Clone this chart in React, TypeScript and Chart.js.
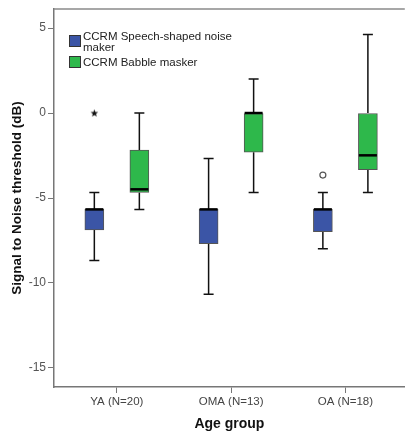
import React, { useEffect, useRef } from "react";
import { Chart, registerables } from "chart.js";

Chart.register(...registerables);

const categories = ["YA (N=20)", "OMA (N=13)", "OA (N=18)"];
const seriesNames = ["CCRM Speech-shaped noise maker", "CCRM Babble masker"];

// Speech-shaped noise masker (blue)
const speechMin = [-8.67, -10.67, -7.98];
const speechQ1 = [-6.88, -7.69, -6.98];
const speechMedian = [-5.67, -5.67, -5.67];
const speechQ3 = [-5.67, -5.67, -5.67];
const speechMax = [-4.67, -2.67, -4.67];

// Babble masker (green)
const babbleMin = [-5.67, -4.67, -4.67];
const babbleQ1 = [-4.67, -2.31, -3.33];
const babbleMedian = [-4.49, 0, -2.49];
const babbleQ3 = [-2.18, 0, 0];
const babbleMax = [0, 2.0, 4.62];

// Outliers: [categoryIndex, value]
const extremeOutliers = [[0, 0]]; // star, speech series
const mildOutliers = [[2, -3.65]]; // circle, speech series

const yTicks = [5, 0, -5, -10, -15];

const BLUE = "#3b55a6";
const GREEN = "#2eb84b";
const OFFSET = 0.197;

const series = [
  { name: seriesNames[0], color: BLUE, off: -OFFSET, min: speechMin, q1: speechQ1, med: speechMedian, q3: speechQ3, max: speechMax },
  { name: seriesNames[1], color: GREEN, off: OFFSET, min: babbleMin, q1: babbleQ1, med: babbleMedian, q3: babbleQ3, max: babbleMax },
];

function makeStar(): HTMLCanvasElement {
  const c = document.createElement("canvas");
  c.width = 9;
  c.height = 9;
  const g = c.getContext("2d")!;
  g.fillStyle = "#111";
  g.beginPath();
  for (let k = 0; k < 10; k++) {
    const r = k % 2 === 0 ? 4 : 1.7;
    const a = -Math.PI / 2 + (k * Math.PI) / 5;
    const px = 4.5 + r * Math.cos(a);
    const py = 4.8 + r * Math.sin(a);
    if (k === 0) g.moveTo(px, py);
    else g.lineTo(px, py);
  }
  g.closePath();
  g.fill();
  return c;
}

const boxPlugin = {
  id: "boxWhiskers",
  beforeDatasetsDraw(chart: any) {
    const { ctx, scales } = chart;
    const xs = scales.x, ys = scales.y;
    ctx.save();
    ctx.strokeStyle = "#111";
    ctx.lineWidth = 1.5;
    series.forEach((s) => {
      categories.forEach((_, i) => {
        const x = xs.getPixelForValue(i + 1 + s.off);
        const yMax = ys.getPixelForValue(s.max[i]);
        const yQ3 = ys.getPixelForValue(s.q3[i]);
        const yQ1 = ys.getPixelForValue(s.q1[i]);
        const yMin = ys.getPixelForValue(s.min[i]);
        ctx.beginPath();
        ctx.moveTo(x, yMax); ctx.lineTo(x, yQ3);
        ctx.moveTo(x, yQ1); ctx.lineTo(x, yMin);
        ctx.moveTo(x - 5, yMax); ctx.lineTo(x + 5, yMax);
        ctx.moveTo(x - 5, yMin); ctx.lineTo(x + 5, yMin);
        ctx.stroke();
      });
    });
    ctx.restore();
  },
  afterDatasetsDraw(chart: any) {
    const { ctx, scales, chartArea } = chart;
    const xs = scales.x, ys = scales.y;
    ctx.save();
    ctx.strokeStyle = "#000";
    ctx.lineWidth = 2.5;
    series.forEach((s) => {
      categories.forEach((_, i) => {
        const x = xs.getPixelForValue(i + 1 + s.off);
        const y = ys.getPixelForValue(s.med[i]);
        ctx.beginPath();
        ctx.moveTo(x - 9, y); ctx.lineTo(x + 9, y);
        ctx.stroke();
      });
    });
    ctx.strokeStyle = "#8a8a8a";
    ctx.lineWidth = 1.5;
    ctx.beginPath();
    ctx.moveTo(chartArea.left, chartArea.top);
    ctx.lineTo(chartArea.right, chartArea.top);
    ctx.stroke();
    ctx.restore();
  },
};

export default function App() {
  const ref = useRef<HTMLCanvasElement | null>(null);
  useEffect(() => {
    if (!ref.current) return;
    const datasets: any[] = series.map((s) => ({
      type: "bar",
      label: s.name,
      data: categories.map((_, i) => ({ x: i + 1 + s.off, y: [s.q1[i], s.q3[i]] })),
      backgroundColor: s.color,
      borderColor: "#555",
      borderWidth: 1,
      borderSkipped: false,
      barThickness: 19,
      grouped: false,
    }));
    datasets.push({
      type: "scatter",
      label: "extreme",
      data: extremeOutliers.map(([i, v]) => ({ x: i + 1 + series[0].off, y: v })),
      pointStyle: makeStar(),
      radius: 4,
    });
    datasets.push({
      type: "scatter",
      label: "outlier",
      data: mildOutliers.map(([i, v]) => ({ x: i + 1 + series[0].off, y: v })),
      pointStyle: "circle",
      radius: 3,
      borderColor: "#555",
      borderWidth: 1.2,
      backgroundColor: "#fff",
    });

    const chart = new Chart(ref.current, {
      type: "bar",
      data: { datasets },
      plugins: [boxPlugin],
      options: {
        animation: false,
        responsive: false,
        devicePixelRatio: 1,
        layout: { padding: { top: 9, right: 0, left: 0, bottom: 0 } },
        plugins: { legend: { display: false }, tooltip: { enabled: false } },
        scales: {
          x: {
            type: "linear",
            min: 0.45,
            max: 3.52,
            offset: false,
            afterFit: (s: any) => { s.height = 45; s.paddingLeft = 0; s.paddingRight = 0; },
            afterBuildTicks: (s: any) => { s.ticks = categories.map((_, i) => ({ value: i + 1 })); },
            ticks: {
              callback: (_v: any, i: number) => categories[i],
              color: "#444",
              font: { family: "Liberation Sans", size: 11.5 },
              padding: 2,
              maxRotation: 0,
              autoSkip: false,
            },
            grid: { display: true, drawOnChartArea: false, drawTicks: true, tickLength: 6, color: "#777", offset: false },
            border: { display: true, color: "#777", width: 1.5 },
            title: {
              display: true,
              text: "Age group",
              color: "#111",
              font: { family: "Liberation Sans", size: 14, weight: "bold" },
              padding: { top: 0, bottom: -1 },
            },
          },
          y: {
            type: "linear",
            min: -16.12,
            max: 6.12,
            afterFit: (s: any) => { s.width = 54; s.paddingTop = 0; s.paddingBottom = 0; },
            afterBuildTicks: (s: any) => { s.ticks = yTicks.map((v) => ({ value: v })); },
            ticks: {
              color: "#555",
              font: { family: "Liberation Sans", size: 12 },
              padding: 2,
            },
            grid: { display: true, drawOnChartArea: false, drawTicks: true, tickLength: 6, color: "#777" },
            border: { display: true, color: "#777", width: 1.5 },
            title: {
              display: true,
              text: "Signal to Noise threshold (dB)",
              color: "#111",
              font: { family: "Liberation Sans", size: 13.5, weight: "bold" },
              padding: { top: 9, bottom: 0 },
            },
          },
        },
      } as any,
    });
    return () => chart.destroy();
  }, []);

  const textStyle: React.CSSProperties = {
    position: "absolute",
    fontFamily: "Liberation Sans",
    fontSize: "11.5px",
    lineHeight: "11px",
    color: "#222",
    whiteSpace: "nowrap",
  };
  const sq = (color: string, top: number): React.CSSProperties => ({
    position: "absolute",
    left: 69,
    top,
    width: 10,
    height: 10,
    background: color,
    border: "1px solid #333",
  });

  return (
    <div style={{ position: "absolute", left: 0, top: 0, width: 410, height: 432, background: "#fff" }}>
      <canvas ref={ref} width={410} height={432} style={{ display: "block", width: 410, height: 432 }} />
      <div style={sq(BLUE, 35)} />
      <div style={{ ...textStyle, left: 83, top: 31 }}>
        CCRM Speech-shaped noise
        <br />
        maker
      </div>
      <div style={sq(GREEN, 56)} />
      <div style={{ ...textStyle, left: 83, top: 57 }}>{seriesNames[1]}</div>
    </div>
  );
}
